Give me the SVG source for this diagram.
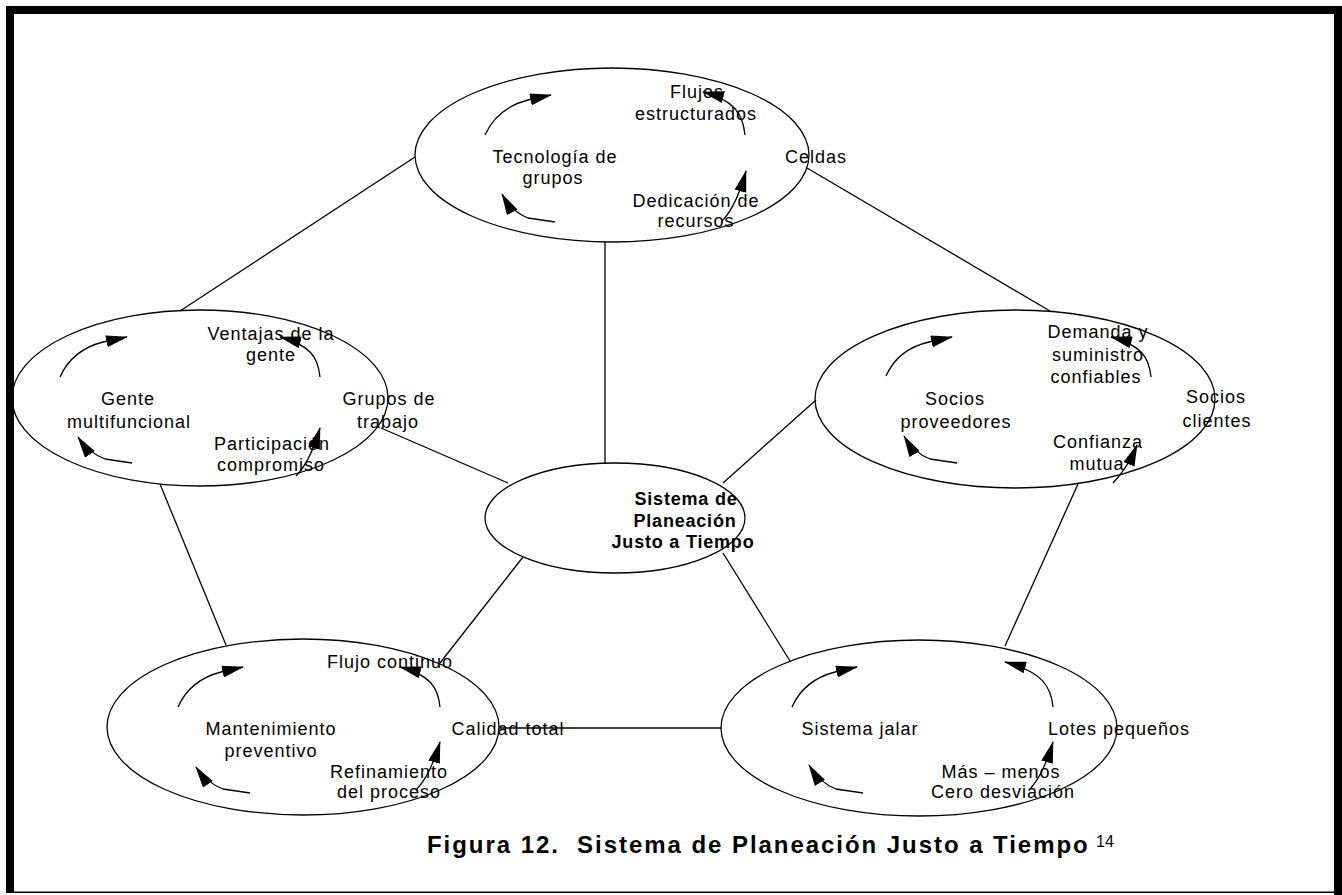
<svg xmlns="http://www.w3.org/2000/svg" width="1342" height="895" viewBox="0 0 1342 895">
<defs>
<marker id="ah" markerUnits="userSpaceOnUse" markerWidth="22" markerHeight="12" refX="21" refY="6" orient="auto">
<path d="M0,0 L22,6 L0,12 Z" fill="#000"/>
</marker>
<style>
.el{fill:none;stroke:#000;stroke-width:1.3}
.ln{stroke:#000;stroke-width:1.3;fill:none}
.ar{stroke:#000;stroke-width:1.3;fill:none;marker-end:url(#ah)}
.t{font-family:"Liberation Sans",Arial,sans-serif;font-size:18px;letter-spacing:1px;text-anchor:middle;fill:#000}
.b{font-family:"Liberation Sans",Arial,sans-serif;font-size:18px;font-weight:bold;letter-spacing:0.8px;text-anchor:middle;fill:#000}
.cap{font-family:"Liberation Sans",Arial,sans-serif;font-size:24px;font-weight:bold;letter-spacing:1.95px;fill:#000;white-space:pre}
</style>
</defs>
<rect x="0" y="0" width="1342" height="895" fill="#fff"/>
<g id="frame">
<rect x="6" y="6" width="1336" height="8" fill="#000"/>
<rect x="6" y="6" width="8" height="887" fill="#000"/>
<rect x="1334" y="6" width="8" height="889" fill="#000"/>
<rect x="6" y="891.5" width="1336" height="1.5" fill="#000"/>
</g>
<g id="connectors">
<line class="ln" x1="605" y1="242" x2="605" y2="463"/>
<line class="ln" x1="415" y1="157" x2="180" y2="311"/>
<line class="ln" x1="807" y1="168" x2="1050" y2="311"/>
<line class="ln" x1="381" y1="428" x2="508" y2="483"/>
<line class="ln" x1="723" y1="483" x2="816" y2="400"/>
<line class="ln" x1="523" y1="557" x2="440" y2="663"/>
<line class="ln" x1="723" y1="553" x2="790" y2="661"/>
<line class="ln" x1="160" y1="484" x2="226" y2="645"/>
<line class="ln" x1="1078" y1="484" x2="1005" y2="646"/>
<line class="ln" x1="499" y1="728" x2="721" y2="728"/>
</g>
<g id="n-top">
<ellipse class="el" cx="612" cy="155" rx="197" ry="87"/>
<path class="ar" d="M485,135 Q497,108 528,100 L551,95"/>
<path class="ar" d="M745,135 C743,115 735,100 703,92"/>
<path class="ar" d="M555,222 L528,218 Q512,212 502,194"/>
<path class="ar" d="M722,221 Q736,207 746,171"/>
<text class="t" x="697" y="98">Flujos</text>
<text class="t" x="696" y="120">estructurados</text>
<text class="t" x="555" y="163">Tecnología de</text>
<text class="t" x="553" y="184">grupos</text>
<text class="t" x="816" y="163">Celdas</text>
<text class="t" x="696" y="207">Dedicación de</text>
<text class="t" x="696" y="227">recursos</text>
</g>
<g id="n-left">
<ellipse class="el" cx="200" cy="398" rx="188" ry="88"/>
<path class="ar" d="M60,377 Q72,350 103,342 L127,337"/>
<path class="ar" d="M320,377 C318,357 310,345 280,337"/>
<path class="ar" d="M132,463 L105,459 Q89,453 78,437"/>
<path class="ar" d="M296,476 Q310,462 320,428"/>
<text class="t" x="271" y="340">Ventajas de la</text>
<text class="t" x="271" y="361">gente</text>
<text class="t" x="128" y="405">Gente</text>
<text class="t" x="129" y="428">multifuncional</text>
<text class="t" x="389" y="405">Grupos de</text>
<text class="t" x="388" y="428">trabajo</text>
<text class="t" x="272" y="450">Participación</text>
<text class="t" x="271" y="471">compromiso</text>
</g>
<g id="n-right">
<ellipse class="el" cx="1015" cy="399" rx="200" ry="89"/>
<path class="ar" d="M886,376 Q898,349 929,342 L952,337"/>
<path class="ar" d="M1151,377 C1149,357 1141,345 1111,337"/>
<path class="ar" d="M957,463 L930,459 Q914,453 904,436"/>
<path class="ar" d="M1113,483 Q1127,469 1137,445"/>
<text class="t" x="1098" y="338">Demanda y</text>
<text class="t" x="1098" y="361">suministro</text>
<text class="t" x="1096" y="383">confiables</text>
<text class="t" x="955" y="405">Socios</text>
<text class="t" x="956" y="428">proveedores</text>
<text class="t" x="1216" y="403">Socios</text>
<text class="t" x="1217" y="427">clientes</text>
<text class="t" x="1098" y="448">Confianza</text>
<text class="t" x="1097" y="470">mutua</text>
</g>
<g id="n-bottom-left">
<ellipse class="el" cx="303" cy="727" rx="196" ry="88"/>
<path class="ar" d="M178,707 Q190,680 221,672 L243,667"/>
<path class="ar" d="M440,707 C438,687 430,675 400,667"/>
<path class="ar" d="M250,793 L223,789 Q207,783 196,767"/>
<path class="ar" d="M416,790 Q430,776 440,742"/>
<text class="t" x="390" y="668">Flujo continuo</text>
<text class="t" x="271" y="735">Mantenimiento</text>
<text class="t" x="271" y="757">preventivo</text>
<text class="t" x="508" y="735">Calidad total</text>
<text class="t" x="389" y="778">Refinamiento</text>
<text class="t" x="389" y="798">del proceso</text>
</g>
<g id="n-bottom-right">
<ellipse class="el" cx="919" cy="728" rx="198" ry="88"/>
<path class="ar" d="M792,707 Q804,680 835,672 L857,667"/>
<path class="ar" d="M1053,707 C1051,686 1042,672 1005,662"/>
<path class="ar" d="M863,793 L836,789 Q820,783 809,765"/>
<path class="ar" d="M1029,790 Q1043,776 1053,742"/>
<text class="t" x="860" y="735">Sistema jalar</text>
<text class="t" x="1119" y="735">Lotes pequeños</text>
<text class="t" x="1001" y="778">Más – menos</text>
<text class="t" x="1003" y="798">Cero desviación</text>
</g>
<g id="n-center">
<ellipse class="el" cx="615" cy="518" rx="130" ry="55"/>
<text class="b" x="686" y="505">Sistema de</text>
<text class="b" x="685" y="527">Planeación</text>
<text class="b" x="683" y="548">Justo a Tiempo</text>
</g>
<g id="caption">
<text class="cap" x="427" y="853" xml:space="preserve">Figura 12.  Sistema de Planeación Justo a Tiempo</text>
<text x="1096" y="847" font-family="Liberation Sans, Arial, sans-serif" font-size="16px" fill="#000">14</text>
</g>
</svg>
